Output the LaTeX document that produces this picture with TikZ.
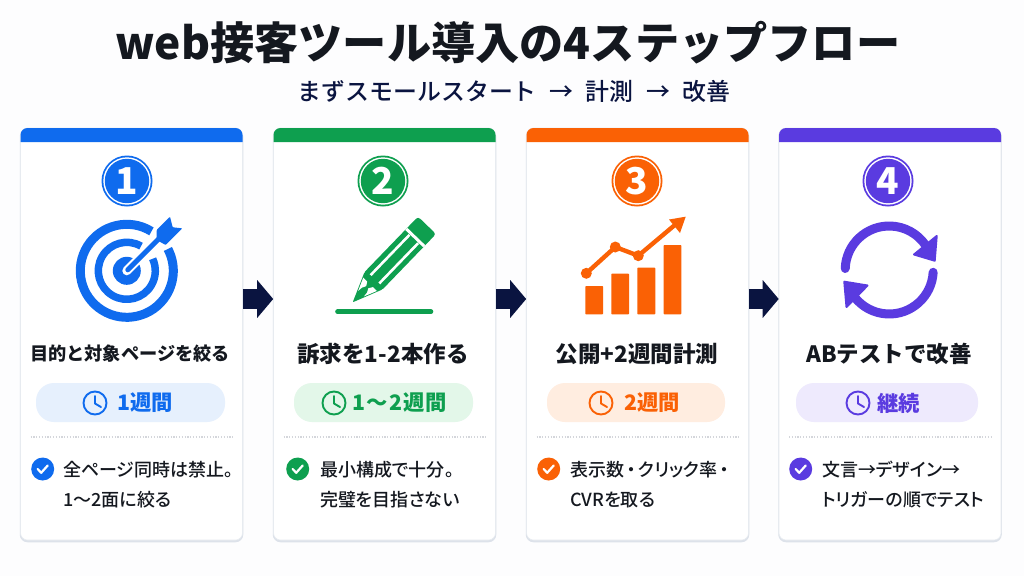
\documentclass[tikz,border=0pt]{standalone}
\usepackage{fontspec}
\usetikzlibrary{arrows.meta}
\setmainfont{Noto Sans CJK JP}
\newfontfamily\medf{Noto Sans CJK JP Medium}
\newfontfamily\medp[RawFeature=+palt]{Noto Sans CJK JP Medium}
\definecolor{navy}{HTML}{0A1440}
\definecolor{ink}{HTML}{14181F}
\definecolor{paper}{HTML}{FDFDFE}
\definecolor{cblue}{HTML}{0F6BEE}
\definecolor{cgreen}{HTML}{0E9F4F}
\definecolor{corange}{HTML}{FA6105}
\definecolor{cpurple}{HTML}{5A3BE0}
\definecolor{pblue}{HTML}{E6F0FD}
\definecolor{pgreen}{HTML}{E3F7E9}
\definecolor{porange}{HTML}{FFEDE0}
\definecolor{ppurple}{HTML}{EEEAFD}
\definecolor{shade}{HTML}{DDE2EA}
\definecolor{dots}{HTML}{D4D6DB}
\tikzset{
  cardbox/.style={rectangle,rounded corners=7pt,minimum width=222pt,minimum height=412pt,inner sep=0pt,fill=white,draw=shade!70,line width=.6pt,
     preaction={draw=shade,fill=shade,line width=1.5pt,transform canvas={yshift=-1.5pt}}},
  cardtitle/.style={font=\bfseries\fontsize{22.5}{24}\selectfont,text=ink,inner sep=0pt},
  pilltext/.style={font=\bfseries\fontsize{21.3}{23}\selectfont,inner sep=0pt,anchor=west},
  bodytext/.style={font=\medp\fontsize{18}{20}\selectfont,text=ink,inner sep=0pt,anchor=west},
  flow/.style={navy,line width=20pt,-{Triangle[length=16pt,width=37pt]}},
  numtext/.style={font=\bfseries\fontsize{37}{39}\selectfont,text=white,inner sep=0pt},
}
% #1 id, #2 card centre x, #3 colour, #4 pill colour, #5 pill left, #6 pill right, #7 clock x, #8 badge x
\newcommand\stepcard[8]{%
  \node[cardbox] (#1card) at (#2,-334) {};
  \fill[#3] (#2-111,-142) -- (#2-111,-135) arc[start angle=180,end angle=90,radius=7] -- (#2+104,-128) arc[start angle=90,end angle=0,radius=7] -- (#2+111,-142) -- cycle;
  \fill[#3] (#8,-181) circle[radius=25.5];
  \fill[white] (#8,-181) circle[radius=23.7];
  \fill[#3] (#8,-181) circle[radius=22.2];
  \fill[#4,rounded corners=18pt] (#5,-383) rectangle (#6,-422);
  \draw[#3,line width=1.9pt] (#7,-403) circle[radius=11.5];
  \draw[#3,line width=1.9pt,line cap=round,line join=round] (#7,-396) -- (#7,-403.5) -- (#7+6,-407);
  \draw[dots,line width=1.1pt,dash pattern=on 1.2pt off 1.6pt] (#2-101,-437) -- (#2+101,-437);
}
\newcommand\chk[2]{%
  \fill[#2] (#1,-469) circle[radius=11.5];
  \draw[white,line width=2.2pt,line cap=round,line join=round] (#1-5,-469) -- (#1-1.5,-472.8) -- (#1+5,-465.5);
}
\begin{document}
\begin{tikzpicture}[x=1pt,y=1pt]
\useasboundingbox (0,0) rectangle (1024,-576);
\fill[paper] (0,0) rectangle (1024,-576);
\node[inner sep=0pt,font=\bfseries\fontsize{44.2}{46}\selectfont,text=ink] (title) at (508,-43) {web接客ツール導入の4ステップフロー};
\node[inner sep=0pt,font=\medf\fontsize{23.9}{26}\selectfont,text=navy] (sub) at (514,-91) {まずスモールスタート\hspace{12.5pt}→\hspace{12.5pt}計測\hspace{12.5pt}→\hspace{12.5pt}改善};

\stepcard{a}{131.5}{cblue}{pblue}{36}{225}{95}{127}
\stepcard{b}{384.5}{cgreen}{pgreen}{294}{473}{334}{383}
\stepcard{c}{637.5}{corange}{porange}{547}{725}{601}{637}
\stepcard{d}{890}{cpurple}{ppurple}{796}{978}{858}{888}

% card titles
\node[cardtitle,font=\bfseries\fontsize{18.2}{20}\selectfont] (t1) at (130,-354) {目的と対象ページを絞る};
\node[cardtitle] (t2) at (383,-354) {訴求を1-2本作る};
\node[cardtitle] (t3) at (637,-354) {公開+2週間計測};
\node[cardtitle] (t4) at (889,-354) {ABテストで改善};

% badge numerals
\node[numtext] (n1) at (127,-181) {1};
\node[numtext] (n2) at (383,-181) {2};
\node[numtext] (n3) at (637,-181) {3};
\node[numtext] (n4) at (888,-181) {4};

% pill labels
\node[pilltext,text=cblue] (p1) at (117,-403) {1週間};
\node[pilltext,text=cgreen] (p2) at (352,-403) {1\hspace{1.5pt}～\hspace{1.5pt}2\hspace{1.5pt}週間};
\node[pilltext,text=corange] (p3) at (624,-403) {2週間};
\node[pilltext,text=cpurple] (p4) at (877,-403) {継続};

% check marks and body text
\chk{42.7}{cblue}\chk{297.7}{cgreen}\chk{548.7}{corange}\chk{800.7}{cpurple}
\node[bodytext] (b1a) at (63,-470) {全ページ同時は禁止。};
\node[bodytext] (b1b) at (63,-500) {1～2面に絞る};
\node[bodytext] (b2a) at (320,-470) {最小構成で十分。};
\node[bodytext] (b2b) at (320,-500) {完璧を目指さない};
\node[bodytext] (b3a) at (570,-470) {表示数\hspace{2.5pt}・\hspace{2.5pt}クリック率\hspace{2.5pt}・};
\node[bodytext] (b3b) at (570,-500) {CVRを取る};
\node[bodytext] (b4a) at (822,-470) {文言→デザイン→};
\node[bodytext] (b4b) at (822,-500) {トリガーの順でテスト};

% connectors between cards
\coordinate (ay) at (0,-299);
\draw[flow] (acard.east |- ay) -- (bcard.west |- ay);
\draw[flow] (bcard.east |- ay) -- (ccard.west |- ay);
\draw[flow] (ccard.east |- ay) -- (dcard.west |- ay);

% target icon
\begin{scope}[shift={(126.8,-270.8)}]
  \draw[cblue,line width=9pt] (58:46.5) arc[start angle=58,end angle=388,radius=46.5];
  \draw[cblue,line width=7.5pt] (60:28.5) arc[start angle=60,end angle=385,radius=28.5];
  \fill[cblue] (0,0) circle[radius=14];
  \draw[white,line width=9pt,line cap=round] (0,0) -- (42,42);
  \draw[cblue,line width=5pt,line cap=round] (1,1) -- (38,38);
\end{scope}
\fill[cblue,rounded corners=.8pt] (170,-216.7) -- (172.7,-227.3) -- (182.3,-228.3) -- (165.7,-245) -- (156.7,-240) -- (156.7,-230) -- cycle;

% pencil icon
\begin{scope}[shift={(352.7,-302.3)},rotate=46]
  \fill[cgreen,rounded corners=3pt] (28,-12.5) -- (107,-12.5) -- (107,12.5) -- (28,12.5) -- cycle;
  \fill[cgreen,rounded corners=1pt] (0,0) -- (30,-12.5) -- (30,12.5) -- cycle;
  \fill[white] (12,-4) -- (25,-9.5) -- (25,-4) -- (21,-1.5) -- (17,-3.5) -- cycle;
  \fill[white] (12,4) -- (25,9.5) -- (25,4) -- (21,1.5) -- (17,3.5) -- cycle;
  \draw[white,line width=2.6pt] (32,-6) -- (88,-6) (32,6) -- (88,6);
  \draw[white,line width=3pt] (90,-12.5) -- (90,12.5);
\end{scope}
\draw[cgreen,line width=4.6pt,line cap=round] (337.5,-311.7) -- (431,-311.7);

% chart icon
\fill[corange,rounded corners=.7pt] (585.3,-314.3) rectangle (603,-286);
\fill[corange,rounded corners=.7pt] (611.3,-314.3) rectangle (629,-273.7);
\fill[corange,rounded corners=.7pt] (637.3,-314.3) rectangle (655.3,-267.7);
\fill[corange,rounded corners=.7pt] (663.7,-314.3) rectangle (681.3,-245);
\draw[corange,line width=4.4pt,line join=round] (586.3,-273.3) -- (615.3,-247) -- (638.3,-255.7) -- (676,-224);
\fill[corange] (586.3,-273.3) circle[radius=5.5];
\fill[corange] (615.3,-247) circle[radius=5.5];
\fill[corange] (638.3,-255.7) circle[radius=5.5];
\fill[corange] (685.7,-216.7) -- (669,-219.5) -- (680,-233) -- cycle;

% cycle icon
\begin{scope}[shift={(889.2,-270)}]
  \draw[cpurple,line width=9pt,line cap=round] (178:44) arc[start angle=178,end angle=35,radius=44];
  \draw[cpurple,line width=9pt,line cap=round] (-3:44) arc[start angle=-3,end angle=-143,radius=44];
\end{scope}
\fill[cpurple,draw=cpurple,line width=2pt,line join=round] (936.7,-236) -- (934.7,-260.7) -- (914,-254.5) -- cycle;
\fill[cpurple,draw=cpurple,line width=2pt,line join=round] (844.3,-281.7) -- (867.5,-285.5) -- (846.5,-307) -- cycle;
\end{tikzpicture}
\end{document}
